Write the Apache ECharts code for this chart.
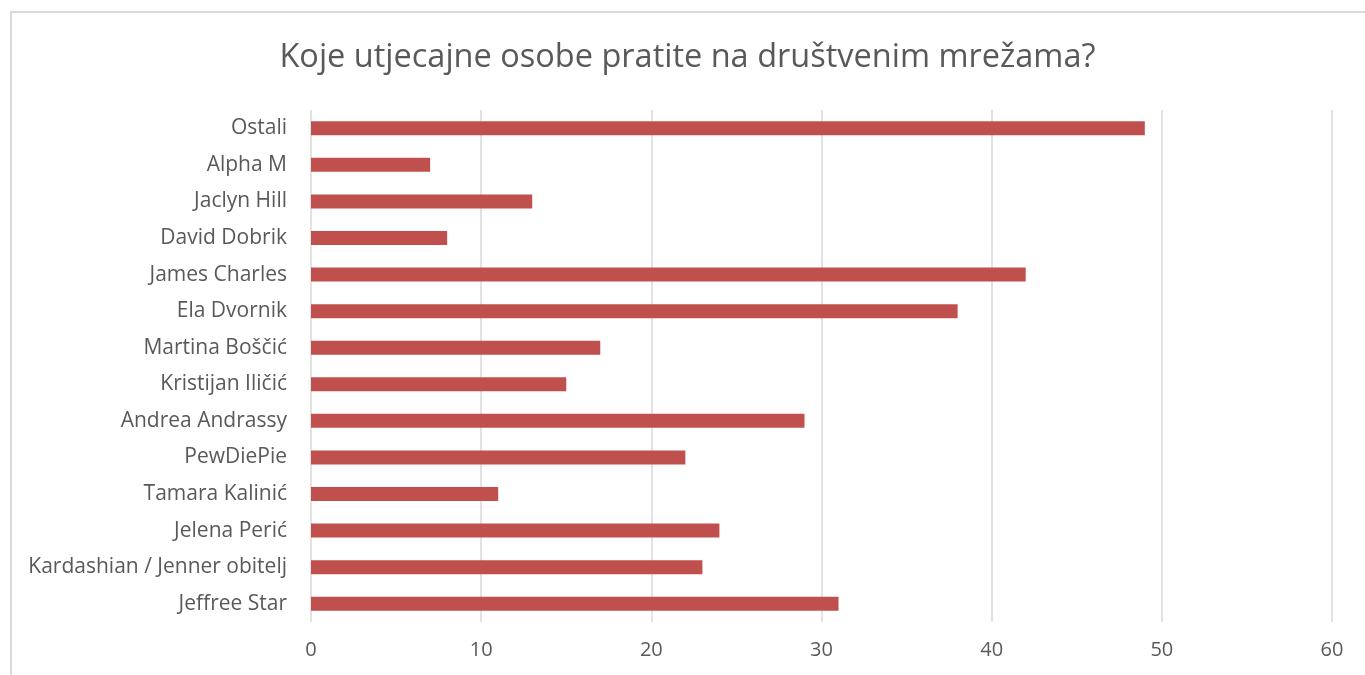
<!DOCTYPE html>
<html>
<head>
<meta charset="utf-8">
<script src="https://cdn.jsdelivr.net/npm/echarts@6/dist/echarts.min.js"></script>
<style>
  html, body { margin: 0; padding: 0; background: #fff; }
  #frame { position: absolute; left: 10px; top: 11px; width: 1400px; height: 700px; border-left: 2px solid #d9d9d9; border-top: 2px solid #d9d9d9; }
  #main { position: absolute; left: 10px; top: 0; width: 1355px; height: 675px; }
</style>
</head>
<body>
<div id="frame"></div>
<div id="main"></div>
<script>
  // kategorije odozdo prema gore (kako ih crta os)
  var categories = ['Jeffree Star', 'Kardashian / Jenner obitelj', 'Jelena Perić', 'Tamara Kalinić',
    'PewDiePie', 'Andrea Andrassy', 'Kristijan Iličić', 'Martina Boščić', 'Ela Dvornik',
    'James Charles', 'David Dobrik', 'Jaclyn Hill', 'Alpha M', 'Ostali']
  var values = [31, 23, 24, 11, 22, 29, 15, 17, 38, 42, 8, 13, 7, 49]
  var xTicks = [0, 10, 20, 30, 40, 50, 60]

  var textColor = '#595959'
  var gridColor = '#d9d9d9'
  var font = 'Open Sans'

  var chart = echarts.init(document.getElementById('main'))
  chart.setOption({
    animation: false,
    title: {
      text: 'Koje utjecajne osobe pratite na društvenim mrežama?',
      left: 'center',
      top: 36,
      textStyle: { fontFamily: font, fontSize: 32.5, fontWeight: 'normal', color: textColor }
    },
    grid: { left: 301, right: 33, top: 110, bottom: 53 },
    xAxis: {
      type: 'value',
      min: xTicks[0],
      max: xTicks[xTicks.length - 1],
      interval: 10,
      axisLine: { show: false },
      axisTick: { show: false },
      axisLabel: { color: textColor, fontFamily: font, fontSize: 20, margin: 18 },
      splitLine: { lineStyle: { color: gridColor, width: 1.5 } }
    },
    yAxis: {
      type: 'category',
      data: categories,
      axisLine: { show: false },
      axisTick: { show: false },
      axisLabel: { color: textColor, fontFamily: font, fontSize: 21, margin: 24 }
    },
    series: [{
      type: 'bar',
      data: values,
      barWidth: 14,
      itemStyle: { color: '#c0504d' }
    }]
  })
</script>
</body>
</html>
